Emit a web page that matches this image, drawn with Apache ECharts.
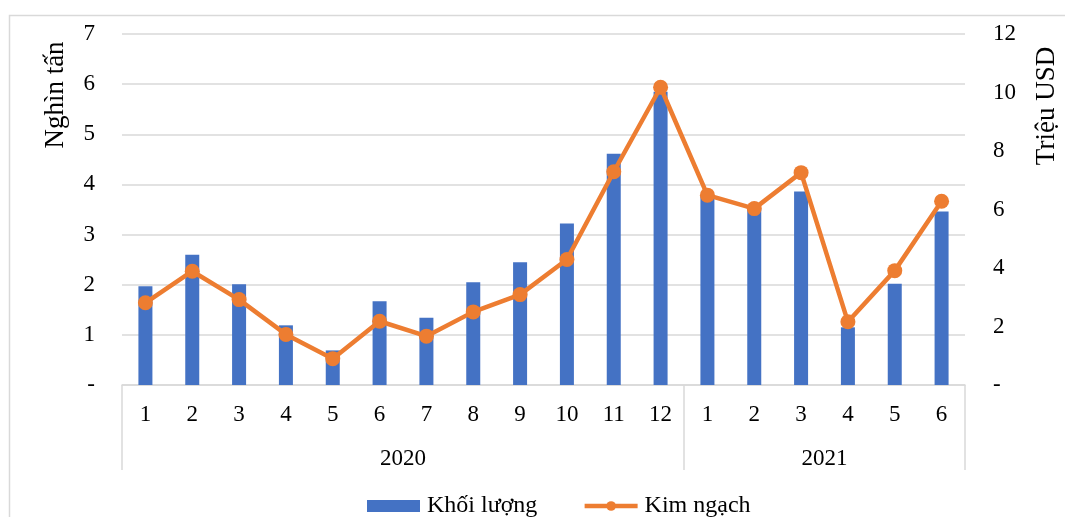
<!DOCTYPE html>
<html>
<head>
<meta charset="utf-8">
<script src="https://cdn.jsdelivr.net/npm/echarts@6/dist/echarts.min.js"></script>
<style>
  html, body { margin: 0; padding: 0; background: #fff; }
  #chart { width: 1065px; height: 517px; }
</style>
</head>
<body>
<div id="chart"></div>
<script>
// Monthly export volume (thousand tonnes) and value (million USD)
const years = ['2020', '2021'];
const monthsPerYear = [12, 6];
const monthLabels = ['1', '2', '3', '4', '5', '6', '7', '8', '9', '10', '11', '12',
                     '1', '2', '3', '4', '5', '6'];
const volume = [1.97, 2.60, 2.01, 1.19, 0.69, 1.67, 1.34, 2.05, 2.45, 3.22, 4.61, 5.85,
                3.78, 3.52, 3.86, 1.15, 2.02, 3.46];
const value = [2.81, 3.89, 2.92, 1.73, 0.90, 2.18, 1.67, 2.50, 3.09, 4.29, 7.29, 10.18,
               6.49, 6.03, 7.26, 2.16, 3.91, 6.28];
const seriesNames = ['Khối lượng', 'Kim ngạch'];
const axisTitles = ['Nghìn tấn', 'Triệu USD'];

const FONT = "'Liberation Serif', 'DejaVu Serif', serif";
const GRID_COLOR = '#D9D9D9';
const TEXT_COLOR = '#000';
const LABEL_SIZE = 23;

// Month categories, keyed by year so repeated month numbers stay distinct
const categories = [];
years.forEach((y, yi) => {
  for (let m = 0; m < monthsPerYear[yi]; m++) categories.push(y + '|' + monthLabels[categories.length]);
});

// Year axis: one slot per month boundary; a year label sits at the middle boundary of its span,
// separators at the first boundary of each year and at the far end
const total = monthsPerYear.reduce((a, b) => a + b, 0);
const yearSlots = [];
const yearLabelAt = {};
const separatorAt = new Set([total]);
let start = 0;
years.forEach((y, yi) => {
  separatorAt.add(start);
  yearLabelAt[start + monthsPerYear[yi] / 2] = y;
  start += monthsPerYear[yi];
});
for (let i = 0; i <= total; i++) yearSlots.push('slot' + i);

const zeroDash = v => (v === 0 ? '-' : String(v));

const chart = echarts.init(document.getElementById('chart'));
chart.setOption({
  animation: false,
  textStyle: { fontFamily: FONT, color: TEXT_COLOR },
  grid: { left: 122, right: 100, top: 34, bottom: 132, containLabel: false },
  graphic: [
    {
      type: 'rect', silent: true, z: -10,
      shape: { x: 9.5, y: 15.5, width: 1100, height: 600 },
      style: { fill: 'none', stroke: GRID_COLOR, lineWidth: 1.5 }
    },
    {
      type: 'text', x: 56, y: 95, rotation: Math.PI / 2,
      style: { text: axisTitles[0], font: '27px ' + FONT, fill: TEXT_COLOR,
               textAlign: 'center', textVerticalAlign: 'middle' }
    },
    {
      type: 'text', x: 1047, y: 106, rotation: Math.PI / 2,
      style: { text: axisTitles[1], font: '27px ' + FONT, fill: TEXT_COLOR,
               textAlign: 'center', textVerticalAlign: 'middle' }
    }
  ],
  legend: {
    top: 494, left: 367,
    itemWidth: 53, itemHeight: 12, itemGap: 45,
    lineStyle: { width: 4.5 },
    textStyle: { fontFamily: FONT, fontSize: 24, color: TEXT_COLOR, padding: [0, 0, 0, 2], lineHeight: 24 },
    padding: 0,
    data: [
      { name: seriesNames[0], icon: 'rect' },
      { name: seriesNames[1] }
    ]
  },
  xAxis: [
    {
      type: 'category',
      data: categories,
      position: 'bottom',
      axisLine: { show: true, lineStyle: { color: GRID_COLOR, width: 1.5 } },
      axisTick: { show: false },
      axisLabel: {
        interval: 0, margin: 18, fontSize: LABEL_SIZE, fontFamily: FONT, color: TEXT_COLOR,
        formatter: v => v.split('|')[1]
      }
    },
    {
      type: 'category',
      data: yearSlots,
      position: 'bottom',
      offset: 0,
      boundaryGap: false,
      axisLine: { show: false },
      axisTick: {
        show: true, length: 85, inside: false,
        interval: idx => separatorAt.has(idx),
        lineStyle: { color: GRID_COLOR, width: 1.5 }
      },
      axisLabel: {
        interval: 0, margin: 62, fontSize: LABEL_SIZE, fontFamily: FONT, color: TEXT_COLOR,
        formatter: (v, idx) => yearLabelAt[idx] || ''
      },
      splitLine: { show: false }
    }
  ],
  yAxis: [
    {
      type: 'value', min: 0, max: 7, interval: 1,
      axisLine: { show: false }, axisTick: { show: false },
      axisLabel: { margin: 27, fontSize: LABEL_SIZE, fontFamily: FONT, color: TEXT_COLOR, formatter: zeroDash },
      splitLine: { show: true, lineStyle: { color: GRID_COLOR, width: 1.5 } }
    },
    {
      type: 'value', min: 0, max: 12, interval: 2,
      axisLine: { show: false }, axisTick: { show: false },
      axisLabel: { margin: 28, fontSize: LABEL_SIZE, fontFamily: FONT, color: TEXT_COLOR, formatter: zeroDash },
      splitLine: { show: false }
    }
  ],
  series: [
    {
      name: seriesNames[0],
      type: 'bar',
      xAxisIndex: 0, yAxisIndex: 0,
      barWidth: 14,
      itemStyle: { color: '#4472C4' },
      data: volume,
      z: 2
    },
    {
      name: seriesNames[1],
      type: 'line',
      xAxisIndex: 0, yAxisIndex: 1,
      symbol: 'circle', symbolSize: 15,
      lineStyle: { color: '#ED7D31', width: 4.5 },
      itemStyle: { color: '#ED7D31' },
      data: value,
      z: 3
    }
  ]
});
</script>
</body>
</html>
